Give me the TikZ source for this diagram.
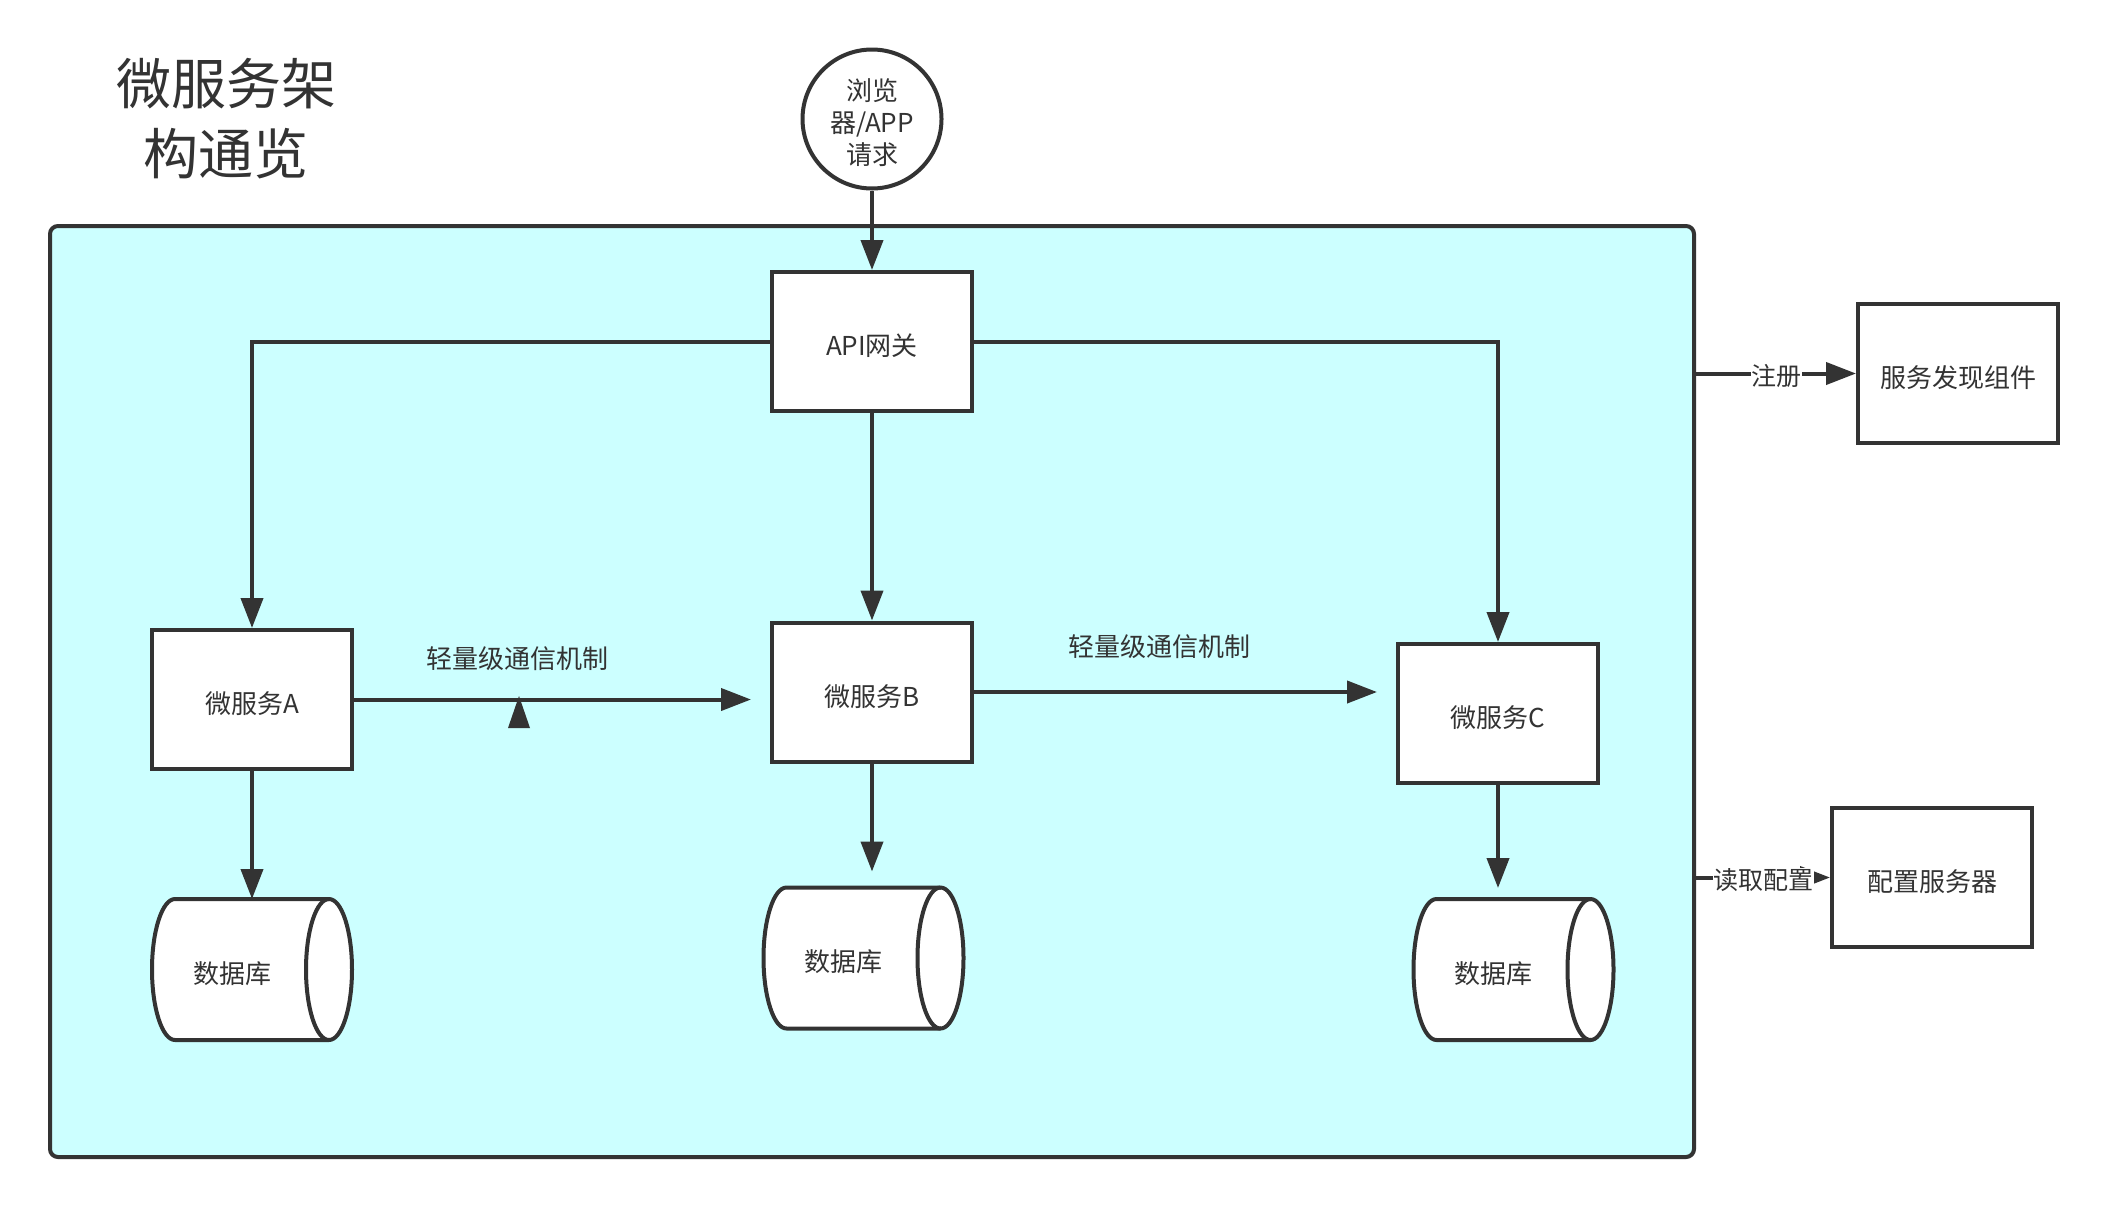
\documentclass[tikz,border=0pt]{standalone}
\usepackage{fontspec}
\setmainfont{Noto Sans CJK SC}
\usetikzlibrary{arrows.meta}
\definecolor{ink}{HTML}{333333}
\definecolor{aqua}{HTML}{CCFFFF}
\newcommand\drawdb[1]{%
  \draw[ink, line width=4pt, fill=white, line join=round]
    ([xshift=-23pt]#1.north east) arc[start angle=90, end angle=-90, x radius=23pt, y radius=70.5pt]
    -- ([xshift=23pt]#1.south west) arc[start angle=270, end angle=90, x radius=23pt, y radius=70.5pt]
    -- cycle;
  \draw[ink, line width=4pt]
    ([xshift=-23pt]#1.north east) arc[start angle=90, end angle=270, x radius=23pt, y radius=70.5pt];
}
\begin{document}
\begin{tikzpicture}[x=1pt,y=-1pt,
  box/.style={draw=ink, line width=4pt, fill=white, minimum width=200pt, minimum height=139pt,
    inner sep=0pt, font=\fontsize{26}{32}\selectfont, text=ink, text height=28pt, text depth=0pt},
  dbbox/.style={draw=none, minimum width=200pt, minimum height=141pt, inner sep=0pt, outer sep=0pt},
  dbtext/.style={font=\fontsize{26}{32}\selectfont, text=ink, inner sep=0pt},
  conn/.style={draw=ink, line width=4pt, -{Triangle[length=30pt,width=22pt]}},
  lbl/.style={font=\fontsize{26}{32}\selectfont, text=ink, inner sep=0pt},
  sidelbl/.style={font=\fontsize{25}{30}\selectfont, text=ink, fill=white, inner sep=0.5pt},
]
\useasboundingbox (0,0) rectangle (2108,1208);
\fill[white] (0,0) rectangle (2108,1208);

% title
\node[font=\fontsize{55}{70}\selectfont, text=ink, align=center, inner sep=0pt] (ttl) at (226,119) {微服务架\\构通览};

% container
\node[draw=ink, fill=aqua, line width=4pt, rounded corners=8pt, minimum width=1644pt, minimum height=931pt, inner sep=0pt] (frame) at (872,691.5) {};

% request circle
\node[circle, draw=ink, line width=4pt, fill=white, minimum size=139pt, inner sep=0pt,
  label={[align=center, font=\fontsize{26}{32}\selectfont, text=ink, inner sep=0pt, yshift=-4pt]center:浏览\\器/APP\\请求}]
  (req) at (872,119) {};

% boxes
\node[box] (api) at (872,341.5) {API网关};
\node[box] (A) at (252,699.5) {微服务A};
\node[box] (B) at (872,692) {微服务B};
\node[box] (C) at (1498,713.5) {微服务C};
\node[box] (sd) at (1958,373.5) {服务发现组件};
\node[box] (cfg) at (1932,877.5) {配置服务器};

% databases
\node[dbbox] (dbA) at (252,969.5) {};
\node[dbbox] (dbB) at (863.5,958) {};
\node[dbbox] (dbC) at (1513.5,969.5) {};
\drawdb{dbA}
\drawdb{dbB}
\drawdb{dbC}
\node[dbtext] (dbAt) at ([xshift=-20pt,yshift=-4pt]dbA.center) {数据库};
\node[dbtext] (dbBt) at ([xshift=-20pt,yshift=-4pt]dbB.center) {数据库};
\node[dbtext] (dbCt) at ([xshift=-20pt,yshift=-4pt]dbC.center) {数据库};

% connectors
\draw[conn] (req) -- (api);
\draw[conn] (api.west) -| (A.north);
\draw[conn] (api.east) -| (C.north);
\draw[conn] (api) -- (B);
\draw[conn, shorten >=19pt] (A.east) -- (A.east -| B.west);
\draw[conn, shorten >=19pt] (B.east) -- (B.east -| C.west);
\draw[conn] (A) -- (dbA);
\draw[conn, shorten >=16pt] (B.south) -- (B.south |- dbB.north);
\draw[conn, shorten >=11pt] (C.south) -- (C.south |- dbC.north);

% odd marker under A-B line
\fill[ink] (519,696) -- (530,728) -- (508,728) -- cycle;

% labels
\node[lbl] (l1) at (517,659) {轻量级通信机制};
\node[lbl] (l2) at (1159,647) {轻量级通信机制};

% side connectors
\draw[conn] (frame.east |- sd.west) -- (sd.west) node[sidelbl, pos=0.5, yshift=-3pt] (lreg) {注册};
\draw[conn] (frame.east |- cfg.west) -- (cfg.west) node[sidelbl, pos=0.5, yshift=-3pt] (lcfg) {读取配置};
\end{tikzpicture}
\end{document}
